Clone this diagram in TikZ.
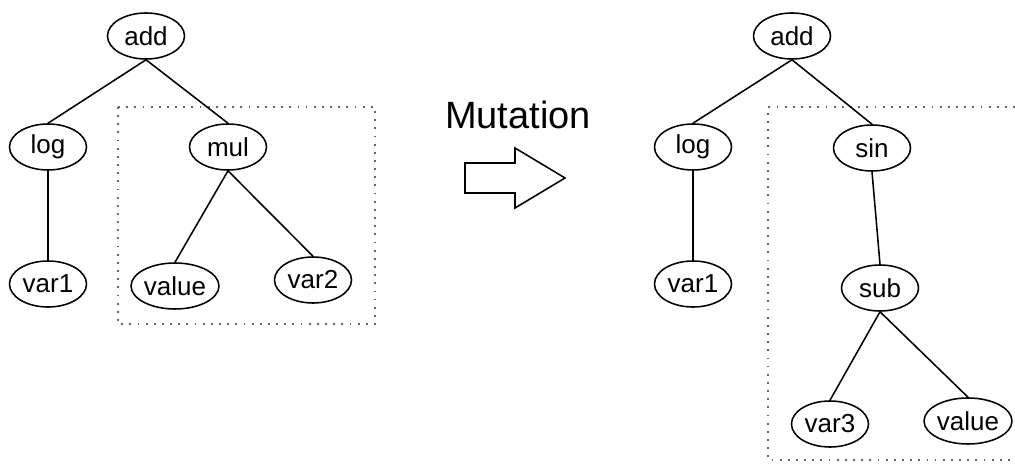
\documentclass[tikz,border=0pt]{standalone}
\usepackage{fontspec}
\setmainfont{Liberation Sans}
\usetikzlibrary{shapes.geometric}

\begin{document}
\begin{tikzpicture}[x=0.025cm, y=-0.025cm,
    op/.style={ellipse, draw, line width=1.1pt, inner sep=0pt,
               minimum width=1.925cm, minimum height=1.15cm, font=\fontsize{18.5}{22}\selectfont},
    wideop/.style={op, minimum width=2.1cm},
    edge/.style={line width=1.1pt},
    region/.style={black!60, line width=1.3pt, dash pattern=on 1.3pt off 4.5pt}]

\useasboundingbox (0,0) rectangle (1015,466);

% Mutated regions (dotted boxes)
\draw[region] (118,107) rectangle (375,324);
\draw[region] (1015,107) -- (768,107) -- (768,460) -- (1015,460);

% Tree before mutation
\node[op] (addA) at (146,36) {add};
\node[op] (logA) at (48,147) {log};
\node[op] (mulA) at (228,147) {mul};
\node[op] (varOneA) at (48,284) {var1};
\node[wideop] (valA) at (175,286) {value};
\node[op] (varTwoA) at (313,280) {var2};

% Tree after mutation
\node[op] (addB) at (792,36) {add};
\node[op] (logB) at (693,147) {log};
\node[op] (sinB) at (872,148) {sin};
\node[op] (varOneB) at (693,284) {var1};
\node[op] (subB) at (880,288) {sub};
\node[op] (varThreeB) at (830,424) {var3};
\node[wideop] (valB) at (968,421) {value};

\begin{scope}[edge]
% Edges before mutation
\draw (addA.south) -- (logA.north);
\draw (addA.south) -- (mulA.north);
\draw (logA.south) -- (varOneA.north);
\draw (mulA.south) -- (valA.north);
\draw (mulA.south) -- (varTwoA.north);

% Edges after mutation
\draw (addB.south) -- (logB.north);
\draw (addB.south) -- (sinB.north);
\draw (logB.south) -- (varOneB.north);
\draw (sinB.south) -- (subB.north);
\draw (subB.south) -- (varThreeB.north);
\draw (subB.south) -- (valB.north);
\end{scope}

% Mutation arrow
\node[font=\fontsize{27}{32}\selectfont] (mutLabel) at (518,115) {Mutation};
\draw[line width=1.1pt, fill=white] (465,163) -- (515,163) -- (515,148) -- (565,178)
    -- (515,208) -- (515,193) -- (465,193) -- cycle;

\end{tikzpicture}
\end{document}
